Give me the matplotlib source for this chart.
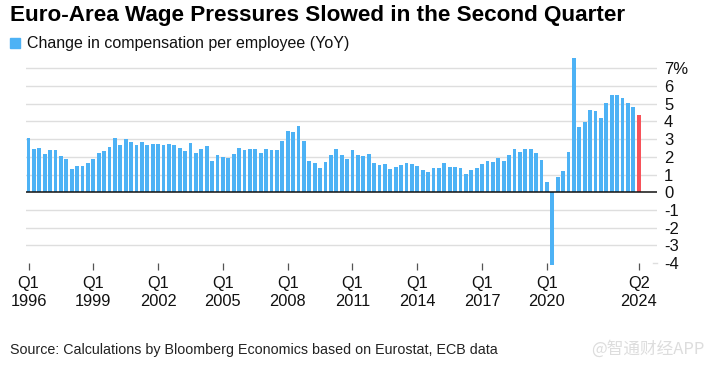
import matplotlib
matplotlib.use("Agg")
import matplotlib.pyplot as plt
import numpy as np

# ---- data ----
values = [
    3.08, 2.45, 2.50, 2.16, 2.40, 2.39, 2.05, 1.90, 1.29, 1.46, 1.46, 1.63,   # 1996-1998
    1.87, 2.24, 2.33, 2.57, 3.09, 2.66, 2.98, 2.82, 2.66, 2.83, 2.67, 2.73,   # 1999-2001
    2.71, 2.67, 2.73, 2.66, 2.48, 2.32, 2.77, 2.24, 2.47, 2.61, 1.75, 2.13,   # 2002-2004
    2.01, 1.92, 2.18, 2.50, 2.37, 2.45, 2.47, 2.19, 2.43, 2.40, 2.40, 2.88,   # 2005-2007
    3.44, 3.43, 3.74, 2.92, 1.76, 1.64, 1.35, 1.70, 2.10, 2.44, 2.13, 1.90,   # 2008-2010
    2.39, 2.09, 2.07, 2.14, 1.67, 1.54, 1.58, 1.32, 1.45, 1.52, 1.68, 1.59,   # 2011-2013
    1.48, 1.26, 1.14, 1.37, 1.35, 1.63, 1.44, 1.44, 1.36, 1.04, 1.26, 1.38,   # 2014-2016
    1.58, 1.76, 1.72, 1.95, 1.76, 2.08, 2.44, 2.26, 2.44, 2.44, 2.23, 1.83,   # 2017-2019
    0.58, -4.13, 0.84, 1.19, 2.25, 7.58, 3.68, 3.98, 4.66, 4.58, 4.17, 5.06,  # 2020-2022
    5.47, 5.49, 5.30, 5.02, 4.79, 4.36,                                       # 2023-2024Q2
]
xtick_idx = [0, 12, 24, 36, 48, 60, 72, 84, 96, 113]
xtick_labels = ["Q1\n1996", "Q1\n1999", "Q1\n2002", "Q1\n2005", "Q1\n2008",
                "Q1\n2011", "Q1\n2014", "Q1\n2017", "Q1\n2020", "Q2\n2024"]
yticks = [-4, -3, -2, -1, 0, 1, 2, 3, 4, 5, 6, 7]
ytick_labels = ["-4", "-3", "-2", "-1", "0", "1", "2", "3", "4", "5", "6", "7%"]

title = "Euro-Area Wage Pressures Slowed in the Second Quarter"
legend_label = "Change in compensation per employee (YoY)"
source = "Source: Calculations by Bloomberg Economics based on Eurostat, ECB data"
watermark = "@智通财经APP"

BLUE = "#4DB2F5"
RED = "#F7525A"
GRID = "#dedede"

plt.rcParams['font.family'] = ['Liberation Sans', 'DejaVu Sans']

W, H = 708, 367
fig = plt.figure(figsize=(W / 100, H / 100), dpi=100)
ax_left, ax_right = 26, 657
ax_top, ax_bot = 56.8, 263.1
ax = fig.add_axes([ax_left / W, 1 - ax_bot / H, (ax_right - ax_left) / W, (ax_bot - ax_top) / H])

x = np.arange(len(values))
colors = [BLUE] * (len(values) - 1) + [RED]
bars = ax.bar(x, values, width=0.68, color=colors, zorder=3)
for b in bars:
    b.set_clip_on(False)

ax.set_xlim(-0.463, 116.39)
ax.set_ylim(-4.0, 7.65)

for v in yticks:
    if v == 0:
        continue
    if v == yticks[0]:
        ax.axhline(v, xmin=0.993, xmax=1.0, color=GRID, lw=1, zorder=1, clip_on=False)
    else:
        ax.axhline(v, color=GRID, lw=1, zorder=1)
ax.axhline(0, color="#111111", lw=1.1, zorder=4)

for s in ax.spines.values():
    s.set_visible(False)

ax.yaxis.tick_right()
ax.set_yticks(yticks)
ax.set_yticklabels(ytick_labels)
ax.tick_params(axis='y', length=0, pad=5, labelsize=12, labelcolor="#111111")
for lab in ax.get_yticklabels():
    lab.set_horizontalalignment('left')

ax.set_xticks(xtick_idx)
ax.set_xticklabels(xtick_labels, linespacing=1.3)
ax.tick_params(axis='x', length=5, width=0.9, color="#555555", pad=4,
               labelsize=11.8, labelcolor="#111111")

fig.text(10 / W, 1 - 16 / H, title, fontsize=16.2, fontweight='bold',
         va='center', ha='left', color="#000000")
fig.patches.append(plt.Rectangle((10 / W, 1 - 48 / H), 10 / W, 10 / H,
                                 transform=fig.transFigure, color=BLUE, figure=fig))
fig.text(27 / W, 1 - 43.5 / H, legend_label, fontsize=11.5, va='center', ha='left',
         color="#111111")
fig.text(10 / W, 1 - 350 / H, source, fontsize=10.3, va='center', ha='left',
         color="#222222")
fig.text(705 / W, 1 - 349 / H, watermark, fontsize=12,
         family=['Noto Sans CJK SC', 'DejaVu Sans'], va='center', ha='right',
         color="#dddddd")

fig.savefig("out.png", dpi=100)
